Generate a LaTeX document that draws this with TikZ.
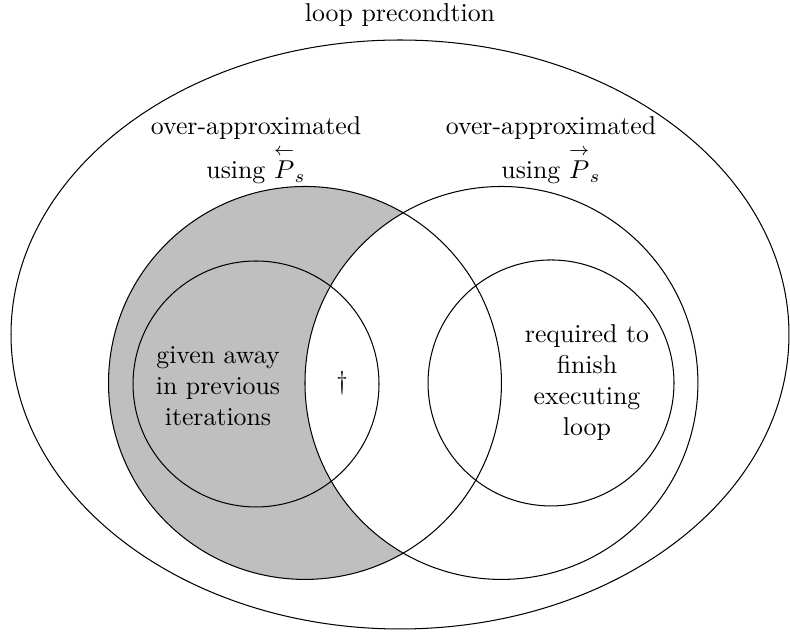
\documentclass[tikz,border=0pt]{standalone}
\usepackage{amsmath}
\usepackage{amssymb}
\usetikzlibrary{positioning}

\begin{document}
\begin{tikzpicture}[lbl/.style={align=center}]
				\tikzstyle{set} = [draw];
				\useasboundingbox (0,0) rectangle (10.76,8.635);
				
				\coordinate (back) at (4.154,3.419);
				\coordinate (fwd) at (6.830,3.419);
				\coordinate (given) at (3.487,3.405);
				\coordinate (req) at (7.505,3.419);
				
				% shaded part: back minus fwd
				\fill[black!25] (back) circle (2.676);
				\begin{scope}
					\clip (back) circle (2.676);
					\fill[white] (fwd) circle (2.676);
				\end{scope}
				
				\draw[set] (5.448,4.079) ellipse (5.298 and 4.011);
				\draw[set] (back) circle (2.676);
				\draw[set] (fwd) circle (2.676);
				\draw[set] (given) circle (1.675);
				\draw[set] (req) circle (1.675);
				
				\node (pre) at (5.448,8.43) {loop precondtion};
				\node[lbl] (backlbl) at (3.487,6.59) {over-approximated\\[1.5pt]using $\overset{\leftarrow}{P}_s$};
				\node[lbl] (fwdlbl) at (7.505,6.59) {over-approximated\\[1.5pt]using $\overset{\rightarrow}{P}_s$};
				
				\node[lbl] (givenlbl) at (2.969,3.378) {given away\\in previous\\iterations};
				\node (dag) at (4.658,3.419) {\dag};
				\node[lbl] (reqlbl) at (7.995,3.419) {required to\\finish\\executing\\loop};
			\end{tikzpicture}
\end{document}
